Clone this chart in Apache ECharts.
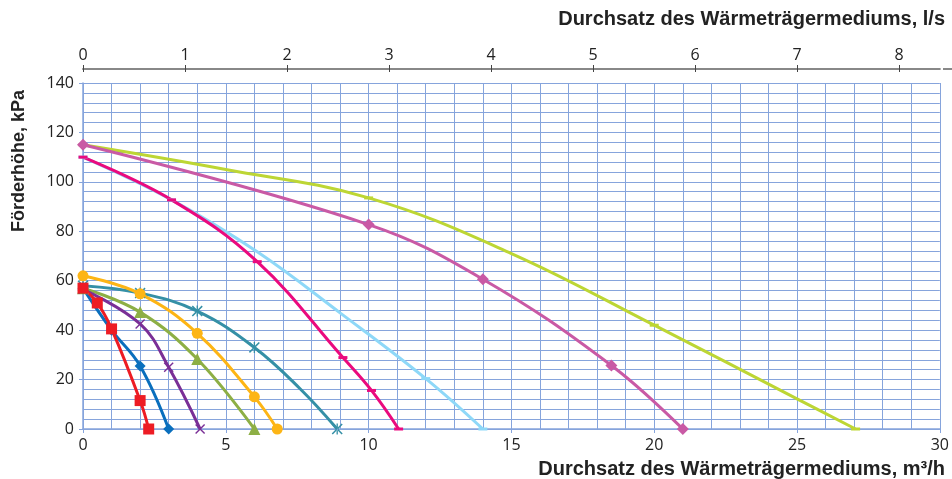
<!DOCTYPE html>
<html>
<head>
<meta charset="utf-8">
<script src="https://cdn.jsdelivr.net/npm/echarts@6/dist/echarts.min.js"></script>
<style>
  html, body { margin: 0; padding: 0; background: #fff; }
  #chart { width: 952px; height: 479px; }
</style>
</head>
<body>
<div id="chart"></div>
<script>
// Pumpenkennlinien: Förderhöhe (kPa) über Durchsatz (m3/h)
const redX = [0, 0.5, 1, 2, 2.3];
const redY = [57, 51, 40.5, 11.5, 0];
const blueX = [0, 1, 2, 3];
const blueY = [57, 40, 25.5, 0];
const purpleX = [0, 2, 3, 4.1];
const purpleY = [56.5, 42.5, 25, 0];
const oliveX = [0, 2, 4, 6];
const oliveY = [57, 47.3, 28.3, 0];
const orangeX = [0, 2, 4, 6, 6.8];
const orangeY = [62, 54.7, 38.7, 13, 0];
const tealX = [0, 2, 4, 6, 7.6, 8.9];
const tealY = [58, 55, 47.7, 33, 16.3, 0];
const magentaX = [0, 3.1, 6.1, 9.1, 10.1, 11.05];
const magentaY = [110, 92.7, 67.7, 28.9, 15.6, 0];
const skyX = [0, 3.1, 6.1, 9, 12, 14];
const skyY = [110, 92.7, 71.7, 47, 20.4, 0];
const orchidX = [0, 10, 14, 18.5, 21];
const orchidY = [115, 82.7, 60.6, 25.7, 0];
const limeX = [0, 5, 10, 15, 20, 25, 27.05];
const limeY = [115, 105, 93.5, 71, 42, 12.2, 0];

// Achsenbeschriftung
const bottomTicks = [0, 5, 10, 15, 20, 25, 30];
const leftTicks = [0, 20, 40, 60, 80, 100, 120, 140];
const topTicks = [0, 1, 2, 3, 4, 5, 6, 7, 8];

const gridColor = '#86a4dc';
const xMark = 'path://M0,1 L1,0 L5,4 L9,0 L10,1 L6,5 L10,9 L9,10 L5,6 L1,10 L0,9 L4,5 Z';
const starMark = 'path://M0,1 L1,0 L5,4 L9,0 L10,1 L6,5 L10,9 L9,10 L5,6 L1,10 L0,9 L4,5 Z M4.4,0 L4.4,10 L5.6,10 L5.6,0 Z';
const titleFont = 'bold 20px "Liberation Sans", Arial, sans-serif';

function curve(name, xs, ys, color, symbol, size, plain) {
  return {
    name: name,
    type: 'line',
    xAxisIndex: 0,
    yAxisIndex: 0,
    smooth: 0.4,
    showAllSymbol: true,
    symbol: symbol,
    symbolSize: size,
    lineStyle: { color: color, width: 3 },
    itemStyle: { color: color },
    data: xs.map(function (x, i) {
      if (plain && plain.indexOf(i) >= 0) return { value: [x, ys[i]], symbol: 'none' };
      return [x, ys[i]];
    })
  };
}

const chart = echarts.init(document.getElementById('chart'));
chart.setOption({
  animation: false,
  backgroundColor: '#fff',
  textStyle: { fontFamily: 'Open Sans' },
  grid: { left: 83, right: 9, top: 83, bottom: 50 },
  xAxis: [{
    // Gitter alle 1 m3/h, Beschriftung alle 5
    type: 'value', position: 'bottom', min: 0, max: 30, interval: 1,
    axisLine: { show: true, lineStyle: { color: gridColor, width: 1.5 } },
    axisTick: { show: false },
    axisLabel: { fontSize: 16, color: '#222', margin: 8, customValues: bottomTicks },
    splitLine: { show: true, lineStyle: { color: gridColor, width: 1 } }
  }, {
    type: 'value', position: 'bottom', min: 0, max: 30, interval: 5,
    axisLine: { show: false },
    axisTick: { show: true, length: 4, lineStyle: { color: gridColor } },
    axisLabel: { show: false },
    splitLine: { show: false }
  }, {
    type: 'value', position: 'top', offset: 14, min: 0, max: 8.4,
    axisLine: { show: true, lineStyle: { color: '#888', width: 2 } },
    axisTick: { show: true, length: 4, customValues: topTicks, lineStyle: { color: '#444' } },
    axisLabel: { fontSize: 16, color: '#222', margin: 6, customValues: topTicks },
    splitLine: { show: false }
  }, {
    type: 'value', position: 'top', offset: 14, min: 0, max: 8.4,
    axisLine: { show: false },
    axisTick: { show: true, inside: true, length: 3, customValues: topTicks, lineStyle: { color: '#444' } },
    axisLabel: { show: false },
    splitLine: { show: false }
  }],
  yAxis: [{
    // Gitter alle 4 kPa, Beschriftung alle 20
    type: 'value', position: 'left', min: 0, max: 140, interval: 4,
    axisLine: { show: true, lineStyle: { color: gridColor, width: 1.5 } },
    axisTick: { show: false },
    axisLabel: { fontSize: 16, color: '#222', margin: 9, customValues: leftTicks },
    splitLine: { show: true, lineStyle: { color: gridColor, width: 1 } }
  }, {
    type: 'value', position: 'left', min: 0, max: 140, interval: 20,
    axisLine: { show: false },
    axisTick: { show: true, length: 4, lineStyle: { color: gridColor } },
    axisLabel: { show: false },
    splitLine: { show: false }
  }],
  graphic: [{
    type: 'text', right: 7, top: 9,
    style: { text: 'Durchsatz des Wärmeträgermediums, l/s', font: titleFont, fill: '#222' }
  }, {
    type: 'text', right: 7, bottom: 0,
    style: { text: 'Durchsatz des Wärmeträgermediums, m³/h', font: titleFont, fill: '#222' }
  }, {
    type: 'text', x: 19, y: 161, rotation: Math.PI / 2,
    style: { text: 'Förderhöhe, kPa', font: 'bold 18px "Liberation Sans", Arial, sans-serif', fill: '#222', textAlign: 'center', textVerticalAlign: 'middle' }
  }, {
    type: 'line', shape: { x1: 943, y1: 69, x2: 952, y2: 69 },
    style: { stroke: '#888', lineWidth: 2 }
  }],
  series: [
    curve('lime', limeX, limeY, '#bdd634', 'rect', [9, 3], [1, 3, 5]),
    curve('orchid', orchidX, orchidY, '#c95aa5', 'diamond', 12),
    curve('sky', skyX, skyY, '#8ed8f8', 'rect', [9, 3], [2, 3]),
    curve('magenta', magentaX, magentaY, '#ea0a7e', 'rect', [9, 3]),
    curve('teal', tealX, tealY, '#3590a6', starMark, 11, [4]),
    curve('orange', orangeX, orangeY, '#fdb515', 'circle', 11),
    curve('olive', oliveX, oliveY, '#8daf45', 'triangle', 12),
    curve('purple', purpleX, purpleY, '#7a2f96', xMark, 10),
    curve('blue', blueX, blueY, '#0a6fbd', 'diamond', 11),
    curve('red', redX, redY, '#ed1c24', 'rect', 11)
  ]
});
</script>
</body>
</html>
